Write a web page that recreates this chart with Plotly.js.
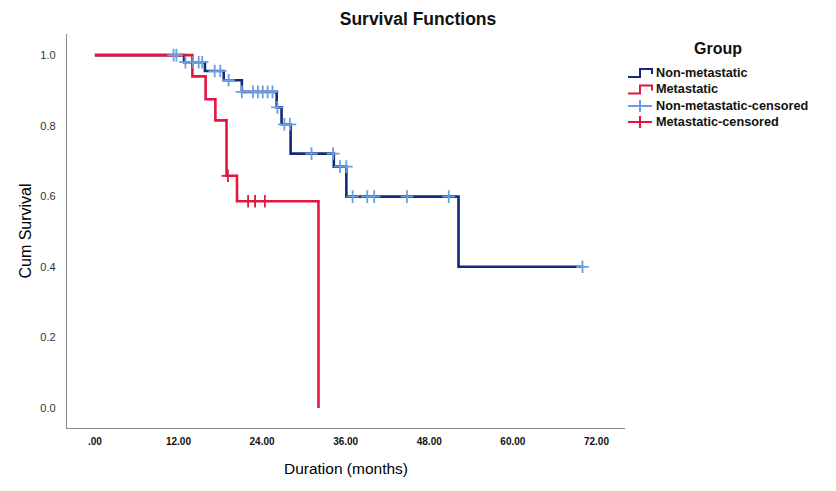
<!DOCTYPE html>
<html>
<head>
<meta charset="utf-8">
<script src="https://cdn.plot.ly/plotly-3.0.1.min.js"></script>
<style>html,body{margin:0;padding:0;background:#fff;}#chart{width:836px;height:491px;}</style>
</head>
<body>
<div id="chart"></div>
<script>
// Step curve: Non-metastatic
var nonMetTime = [0, 12.8, 15.8, 18.5, 21.1, 26.1, 26.8, 28.1, 34.3, 36.1, 52.2, 70.0];
var nonMetSurv = [1.0, 0.980, 0.955, 0.929, 0.896, 0.852, 0.804, 0.721, 0.684, 0.599, 0.400, 0.400];
// Step curve: Metastatic
var metTime = [0, 14.0, 15.9, 17.3, 18.9, 20.4, 32.1, 32.1];
var metSurv = [1.0, 0.940, 0.875, 0.815, 0.658, 0.586, 0.586, 0.0];
// Censored: Non-metastatic
var nonMetCensTime = [11.3, 11.7, 13.0, 14.1, 14.9, 15.4, 17.2, 18.0, 19.2, 21.1, 22.7, 23.4, 24.1, 24.8, 25.5, 26.2, 27.2, 28.0, 31.1, 34.2, 35.2, 36.1, 37.0, 39.1, 40.1, 44.8, 50.8, 70.0];
var nonMetCensSurv = [1.0, 1.0, 0.980, 0.980, 0.980, 0.980, 0.955, 0.955, 0.929, 0.896, 0.896, 0.896, 0.896, 0.896, 0.896, 0.852, 0.804, 0.804, 0.721, 0.721, 0.684, 0.684, 0.599, 0.599, 0.599, 0.599, 0.599, 0.400];
// Censored: Metastatic
var metCensTime = [19.1, 22.0, 23.0, 24.4];
var metCensSurv = [0.658, 0.586, 0.586, 0.586];

var xTickVals = [0, 12, 24, 36, 48, 60, 72];
var xTickText = ['.00', '12.00', '24.00', '36.00', '48.00', '60.00', '72.00'];
var yTickVals = [0, 0.2, 0.4, 0.6, 0.8, 1.0];
var yTickText = ['0.0', '0.2', '0.4', '0.6', '0.8', '1.0'];

var legendNames = ['Non-metastatic', 'Metastatic', 'Non-metastatic-censored', 'Metastatic-censored'];
var legendKinds = ['step', 'step', 'cross', 'cross'];

var navy = '#15287a';
var red = '#e2163e';
var lightBlue = '#6a9fe2';
var legendColors = [navy, red, lightBlue, red];

var traces = [
  {x: nonMetTime, y: nonMetSurv, type: 'scatter', mode: 'lines', line: {shape: 'hv', color: navy, width: 2.6}, name: legendNames[0]},
  {x: metTime, y: metSurv, type: 'scatter', mode: 'lines', line: {shape: 'hv', color: red, width: 2.6}, name: legendNames[1]},
  {x: nonMetCensTime, y: nonMetCensSurv, type: 'scatter', mode: 'markers', marker: {symbol: 'cross-thin', size: 9, line: {color: lightBlue, width: 1.8}}, name: legendNames[2]},
  {x: metCensTime, y: metCensSurv, type: 'scatter', mode: 'markers', marker: {symbol: 'cross-thin', size: 9, line: {color: red, width: 1.8}}, name: legendNames[3]}
];

// plot-area geometry in pixels (for the hand-built legend)
var W = 836, H = 491, ML = 67, MR = 211, MT = 34, MB = 63;
var PW = W - ML - MR, PH = H - MT - MB;
function px(xp) { return (xp - ML) / PW; }
function py(yp) { return (H - MB - yp) / PH; }

var shapes = [];
var annotations = [];
annotations.push({xref: 'paper', yref: 'paper', x: px(718), y: py(48), text: '<b>Group</b>', showarrow: false,
  xanchor: 'center', yanchor: 'middle', font: {size: 16, color: '#111'}});
var itemY = [73, 89.5, 106, 122];
for (var i = 0; i < legendNames.length; i++) {
  var yc = itemY[i];
  annotations.push({xref: 'paper', yref: 'paper', x: px(654), y: py(yc), text: '<b>' + legendNames[i] + '</b>', showarrow: false,
    xanchor: 'left', yanchor: 'middle', font: {size: 12.7, color: '#111'}});
  if (legendKinds[i] === 'step') {
    var path = 'M' + px(628) + ',' + py(yc + 4) + ' L' + px(640) + ',' + py(yc + 4) + ' L' + px(640) + ',' + py(yc - 4) +
      ' L' + px(652) + ',' + py(yc - 4) + ' L' + px(652) + ',' + py(yc + 1);
    shapes.push({type: 'path', xref: 'paper', yref: 'paper', path: path, line: {color: legendColors[i], width: 2}});
  } else {
    shapes.push({type: 'line', xref: 'paper', yref: 'paper', x0: px(628), x1: px(652), y0: py(yc), y1: py(yc), line: {color: legendColors[i], width: 2}});
    shapes.push({type: 'line', xref: 'paper', yref: 'paper', x0: px(640), x1: px(640), y0: py(yc - 6), y1: py(yc + 6), line: {color: legendColors[i], width: 2}});
  }
}

var layout = {
  width: W, height: H,
  margin: {l: ML, r: MR, t: MT, b: MB},
  paper_bgcolor: '#fff', plot_bgcolor: '#fff',
  font: {family: 'Liberation Sans, Arial, sans-serif', color: '#000'},
  title: {text: '<b>Survival Functions</b>', x: 0.5, xref: 'container', xanchor: 'center', y: 1 - 19 / H, yref: 'container', yanchor: 'middle', font: {size: 17.5, color: '#111'}},
  showlegend: false,
  shapes: shapes,
  annotations: annotations,
  xaxis: {
    range: [-4.0, 76.1], showgrid: false, zeroline: false,
    showline: true, linecolor: '#8a8a8a', linewidth: 1.2, mirror: false,
    ticks: '', tickvals: xTickVals, ticktext: xTickText,
    tickfont: {size: 10, color: '#111', weight: 'bold'}, ticklabelstandoff: 4,
    title: {text: 'Duration (months)', font: {size: 15.5, color: '#000'}, standoff: 17}
  },
  yaxis: {
    range: [-0.057, 1.06], showgrid: false, zeroline: false,
    showline: true, linecolor: '#8a8a8a', linewidth: 1.2, mirror: false,
    ticks: '', tickvals: yTickVals, ticktext: yTickText,
    tickfont: {size: 11, color: '#333'}, ticklabelstandoff: 8,
    title: {text: 'Cum Survival', font: {size: 16, color: '#000'}, standoff: 4}
  }
};

Plotly.newPlot('chart', traces, layout, {displayModeBar: false, staticPlot: true});
</script>
</body>
</html>
